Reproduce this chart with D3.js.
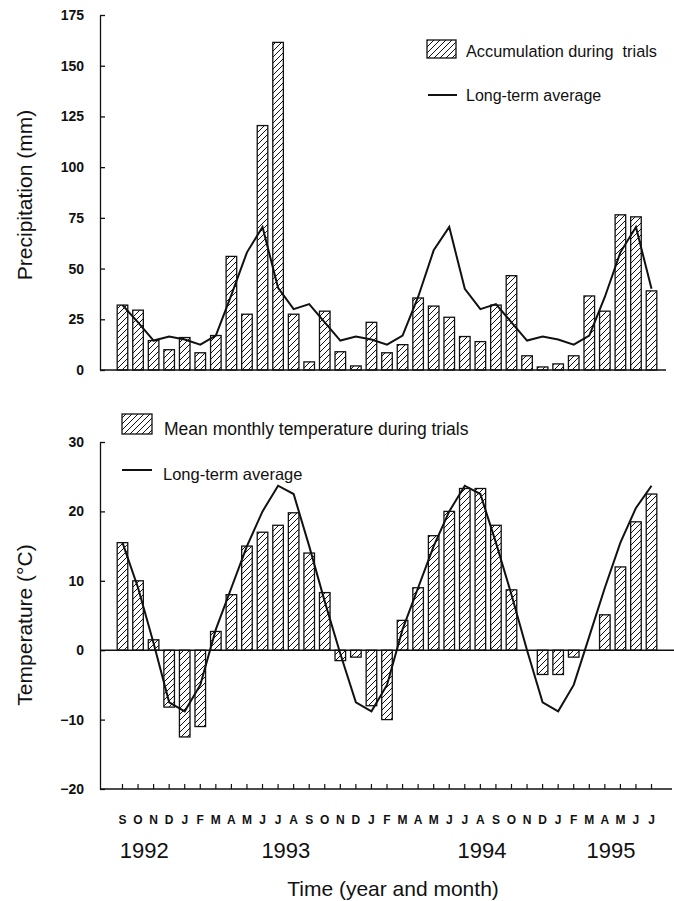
<!DOCTYPE html>
<html>
<head>
<meta charset="utf-8">
<script src="https://cdn.jsdelivr.net/npm/d3@7"></script>
<style>
  body { margin: 0; background: #fff; }
  svg { display: block; font-family: 'Liberation Sans', Arial, sans-serif; }
</style>
</head>
<body>
<div id="chart"></div>
<script>
// Month letters, Sep 1992 .. Jul 1995
const months = ['S','O','N','D','J','F','M','A','M','J','J','A',
  'S','O','N','D','J','F','M','A','M','J','J','A',
  'S','O','N','D','J','F','M','A','M','J','J']

// Precipitation (mm)
const precipTrial = [32, 29.5, 14.5, 10, 16, 8.5, 17, 56, 27.5, 120.5, 161.5, 27.5,
  4, 29, 9, 2, 23.5, 8.5, 12.5, 35.5, 31.5, 26, 16.5, 14,
  32, 46.5, 7, 1.5, 3, 7, 36.5, 29, 76.5, 75.5, 39]
const precipAvg = [32, 23.5, 14.5, 16.5, 15, 12.5, 17, 37, 58, 70.5, 40.5, 30,
  32.5, 23.5, 14.5, 16.5, 15, 12.5, 17, 36, 59, 70.5, 40, 30,
  32.5, 23.5, 14.5, 16.5, 15, 12.5, 17, 36, 58, 70.5, 40]

// Temperature (°C)
const tempTrial = [15.5, 10, 1.5, -8.2, -12.5, -11, 2.7, 8, 15, 17, 18, 19.8,
  14, 8.3, -1.5, -1, -8, -10, 4.3, 9, 16.5, 20, 23.3, 23.3,
  18, 8.7, 0, -3.5, -3.5, -1, 0, 5.1, 12, 18.5, 22.5]
const tempAvg = [15.5, 9, 1, -7.5, -8.8, -5, 3, 9, 15, 20, 23.7, 22.5,
  15, 7, -0.5, -7.5, -8.8, -5, 3, 9, 15, 20, 23.7, 22.5,
  15.5, 8, 0, -7.5, -8.8, -5, 2, 9, 15.5, 20.5, 23.7]

const precipTicks = [0, 25, 50, 75, 100, 125, 150, 175]
const tempTicks = [-20, -10, 0, 10, 20, 30]
const years = ['1992', '1993', '1994', '1995']
const yearAt = [1.4, 10.5, 23.1, 31.4]   // month index under which each year is written

const width = 674, height = 901
const axisX = 100

const svg = d3.select('#chart').append('svg')
  .attr('width', width)
  .attr('height', height)
  .style('background', '#fff')

// hatch pattern
const defs = svg.append('defs')
defs.append('pattern')
  .attr('id', 'hatch')
  .attr('patternUnits', 'userSpaceOnUse')
  .attr('width', 6).attr('height', 6)
  .append('path')
  .attr('d', 'M-1,1 l2,-2 M0,6 l6,-6 M5,7 l2,-2')
  .attr('stroke', '#111').attr('stroke-width', 1)

const x = d3.scaleBand()
  .domain(d3.range(months.length))
  .range([114.7, 659.3])
  .paddingInner(0.32)
  .paddingOuter(0.16)
const xc = i => x(i) + x.bandwidth() / 2
const xi = d3.scaleLinear().domain([0, months.length - 1]).range([xc(0), xc(months.length - 1)])

const yP = d3.scaleLinear().domain([0, 175]).range([370, 15])
const yT = d3.scaleLinear().domain([-20, 30]).range([789, 442])

const tickFont = g => g.selectAll('text')
  .style('font-size', '14px').style('font-weight', 'bold').attr('fill', '#111')

// ---------- precipitation panel ----------
const topPanel = svg.append('g')

topPanel.append('g')
  .attr('transform', `translate(${axisX},0)`)
  .call(d3.axisLeft(yP).tickValues(precipTicks).tickSize(-5).tickSizeOuter(0).tickPadding(16))
  .call(g => g.select('.domain').attr('stroke', '#111').attr('stroke-width', 1.3))
  .call(g => g.selectAll('.tick line').attr('stroke', '#111').attr('stroke-width', 1.3))
  .call(tickFont)

topPanel.append('line')
  .attr('x1', axisX).attr('x2', 666)
  .attr('y1', yP(0)).attr('y2', yP(0))
  .attr('stroke', '#111').attr('stroke-width', 1.6)

topPanel.selectAll('rect.bar')
  .data(precipTrial)
  .enter()
  .append('rect')
  .attr('class', 'bar')
  .attr('x', (d, i) => x(i))
  .attr('y', d => yP(d))
  .attr('width', x.bandwidth())
  .attr('height', d => yP(0) - yP(d))
  .attr('fill', 'url(#hatch)')
  .attr('stroke', '#111')
  .attr('stroke-width', 1.3)

topPanel.append('path')
  .datum(precipAvg)
  .attr('d', d3.line().x((d, i) => xc(i)).y(d => yP(d)))
  .attr('fill', 'none')
  .attr('stroke', '#111')
  .attr('stroke-width', 2)

topPanel.append('text')
  .attr('transform', `translate(32,195) rotate(-90)`)
  .attr('text-anchor', 'middle')
  .style('font-size', '21px')
  .attr('fill', '#111')
  .text('Precipitation (mm)')

// legend
topPanel.append('rect')
  .attr('x', 427).attr('y', 40).attr('width', 29).attr('height', 18)
  .attr('fill', 'url(#hatch)').attr('stroke', '#111').attr('stroke-width', 1.3)
topPanel.append('text')
  .attr('x', 466).attr('y', 57)
  .style('font-size', '16.3px').style('white-space', 'pre').attr('fill', '#111')
  .text('Accumulation during  trials')
topPanel.append('line')
  .attr('x1', 428).attr('x2', 457).attr('y1', 95).attr('y2', 95)
  .attr('stroke', '#111').attr('stroke-width', 2)
topPanel.append('text')
  .attr('x', 466).attr('y', 101)
  .style('font-size', '16px').attr('fill', '#111')
  .text('Long-term average')

// ---------- temperature panel ----------
const botPanel = svg.append('g')

botPanel.append('g')
  .attr('transform', `translate(${axisX},0)`)
  .call(d3.axisLeft(yT).tickValues(tempTicks).tickSize(-5).tickSizeOuter(0).tickPadding(16))
  .call(g => g.select('.domain').attr('stroke', '#111').attr('stroke-width', 1.3))
  .call(g => g.selectAll('.tick line').attr('stroke', '#111').attr('stroke-width', 1.3))
  .call(tickFont)

// month axis at the bottom
botPanel.append('g')
  .attr('transform', `translate(0,${yT(-20)})`)
  .call(d3.axisBottom(x).tickSize(-5).tickSizeOuter(0).tickPadding(26).tickFormat(i => months[i]))
  .call(g => g.select('.domain').remove())
  .call(g => g.selectAll('.tick line').attr('stroke', '#111').attr('stroke-width', 1.2))
  .call(g => g.selectAll('text').style('font-size', '12px').style('font-weight', 'bold').attr('fill', '#111'))

botPanel.append('line')
  .attr('x1', axisX).attr('x2', 672)
  .attr('y1', yT(-20)).attr('y2', yT(-20))
  .attr('stroke', '#111').attr('stroke-width', 1.4)

botPanel.selectAll('rect.bar')
  .data(tempTrial)
  .enter()
  .append('rect')
  .attr('class', 'bar')
  .attr('x', (d, i) => x(i))
  .attr('y', d => yT(Math.max(0, d)))
  .attr('width', x.bandwidth())
  .attr('height', d => Math.abs(yT(d) - yT(0)))
  .attr('fill', 'url(#hatch)')
  .attr('stroke', '#111')
  .attr('stroke-width', 1.3)

botPanel.append('line')
  .attr('x1', axisX).attr('x2', 674)
  .attr('y1', yT(0)).attr('y2', yT(0))
  .attr('stroke', '#111').attr('stroke-width', 1.4)

botPanel.append('path')
  .datum(tempAvg)
  .attr('d', d3.line().x((d, i) => xc(i)).y(d => yT(d)))
  .attr('fill', 'none')
  .attr('stroke', '#111')
  .attr('stroke-width', 2)

botPanel.append('text')
  .attr('transform', `translate(32,625) rotate(-90)`)
  .attr('text-anchor', 'middle')
  .style('font-size', '21px')
  .attr('fill', '#111')
  .text('Temperature (°C)')

// legend
botPanel.append('rect')
  .attr('x', 122).attr('y', 414).attr('width', 30).attr('height', 20)
  .attr('fill', 'url(#hatch)').attr('stroke', '#111').attr('stroke-width', 1.3)
botPanel.append('text')
  .attr('x', 164).attr('y', 435)
  .style('font-size', '17.5px').attr('fill', '#111')
  .text('Mean monthly temperature during trials')
botPanel.append('line')
  .attr('x1', 122).attr('x2', 152).attr('y1', 470).attr('y2', 470)
  .attr('stroke', '#111').attr('stroke-width', 2)
botPanel.append('text')
  .attr('x', 163).attr('y', 480)
  .style('font-size', '16.5px').attr('fill', '#111')
  .text('Long-term average')

// years and axis title
svg.selectAll('text.year')
  .data(years)
  .enter()
  .append('text')
  .attr('class', 'year')
  .attr('x', (d, i) => xi(yearAt[i]))
  .attr('y', 858)
  .attr('text-anchor', 'middle')
  .style('font-size', '22px')
  .attr('fill', '#111')
  .text(d => d)

svg.append('text')
  .attr('x', 393).attr('y', 896)
  .attr('text-anchor', 'middle')
  .style('font-size', '21px')
  .attr('fill', '#111')
  .text('Time (year and month)')
</script>
</body>
</html>
